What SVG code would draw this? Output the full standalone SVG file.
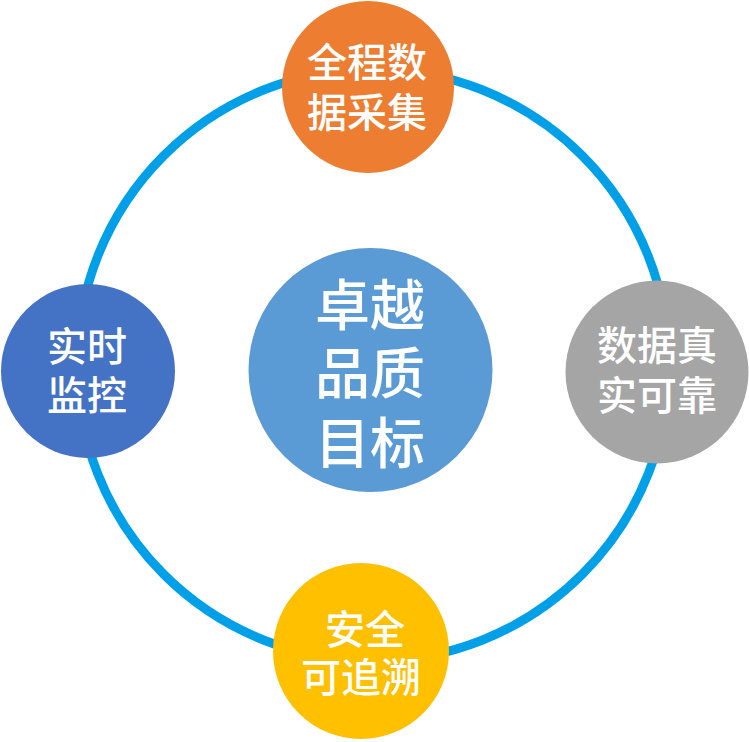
<svg xmlns="http://www.w3.org/2000/svg" width="749" height="742" viewBox="0 0 749 742">
<style>
.lbl{font-family:"Noto Sans CJK SC","Noto Sans",sans-serif;fill:#ffffff;text-anchor:middle;font-size:40px;font-weight:500}
.big{font-size:55px}
</style>
<rect width="749" height="742" fill="#ffffff"/>
<g id="connectors">
<circle cx="373" cy="365" r="296" fill="none" stroke="#00a0e9" stroke-width="9"/>
</g>
<g id="center">
<circle cx="370.5" cy="370" r="122" fill="#5b9bd5"/>
<text class="lbl big"><tspan x="370" y="325">卓越</tspan><tspan x="370" y="393">品质</tspan><tspan x="370" y="463">目标</tspan></text>
</g>
<g id="top">
<circle cx="368" cy="87" r="86" fill="#ed7d31"/>
<text class="lbl"><tspan x="367" y="77">全程数</tspan><tspan x="367" y="127">据采集</tspan></text>
</g>
<g id="left">
<circle cx="88" cy="371" r="87" fill="#4472c4"/>
<text class="lbl"><tspan x="87" y="361">实时</tspan><tspan x="87" y="410">监控</tspan></text>
</g>
<g id="right">
<circle cx="657" cy="372" r="91.5" fill="#a5a5a5"/>
<text class="lbl"><tspan x="657" y="360">数据真</tspan><tspan x="657" y="410">实可靠</tspan></text>
</g>
<g id="bottom">
<circle cx="361" cy="651" r="88" fill="#ffc000"/>
<text class="lbl"><tspan x="365" y="644">安全</tspan><tspan x="361" y="692">可追溯</tspan></text>
</g>
</svg>
